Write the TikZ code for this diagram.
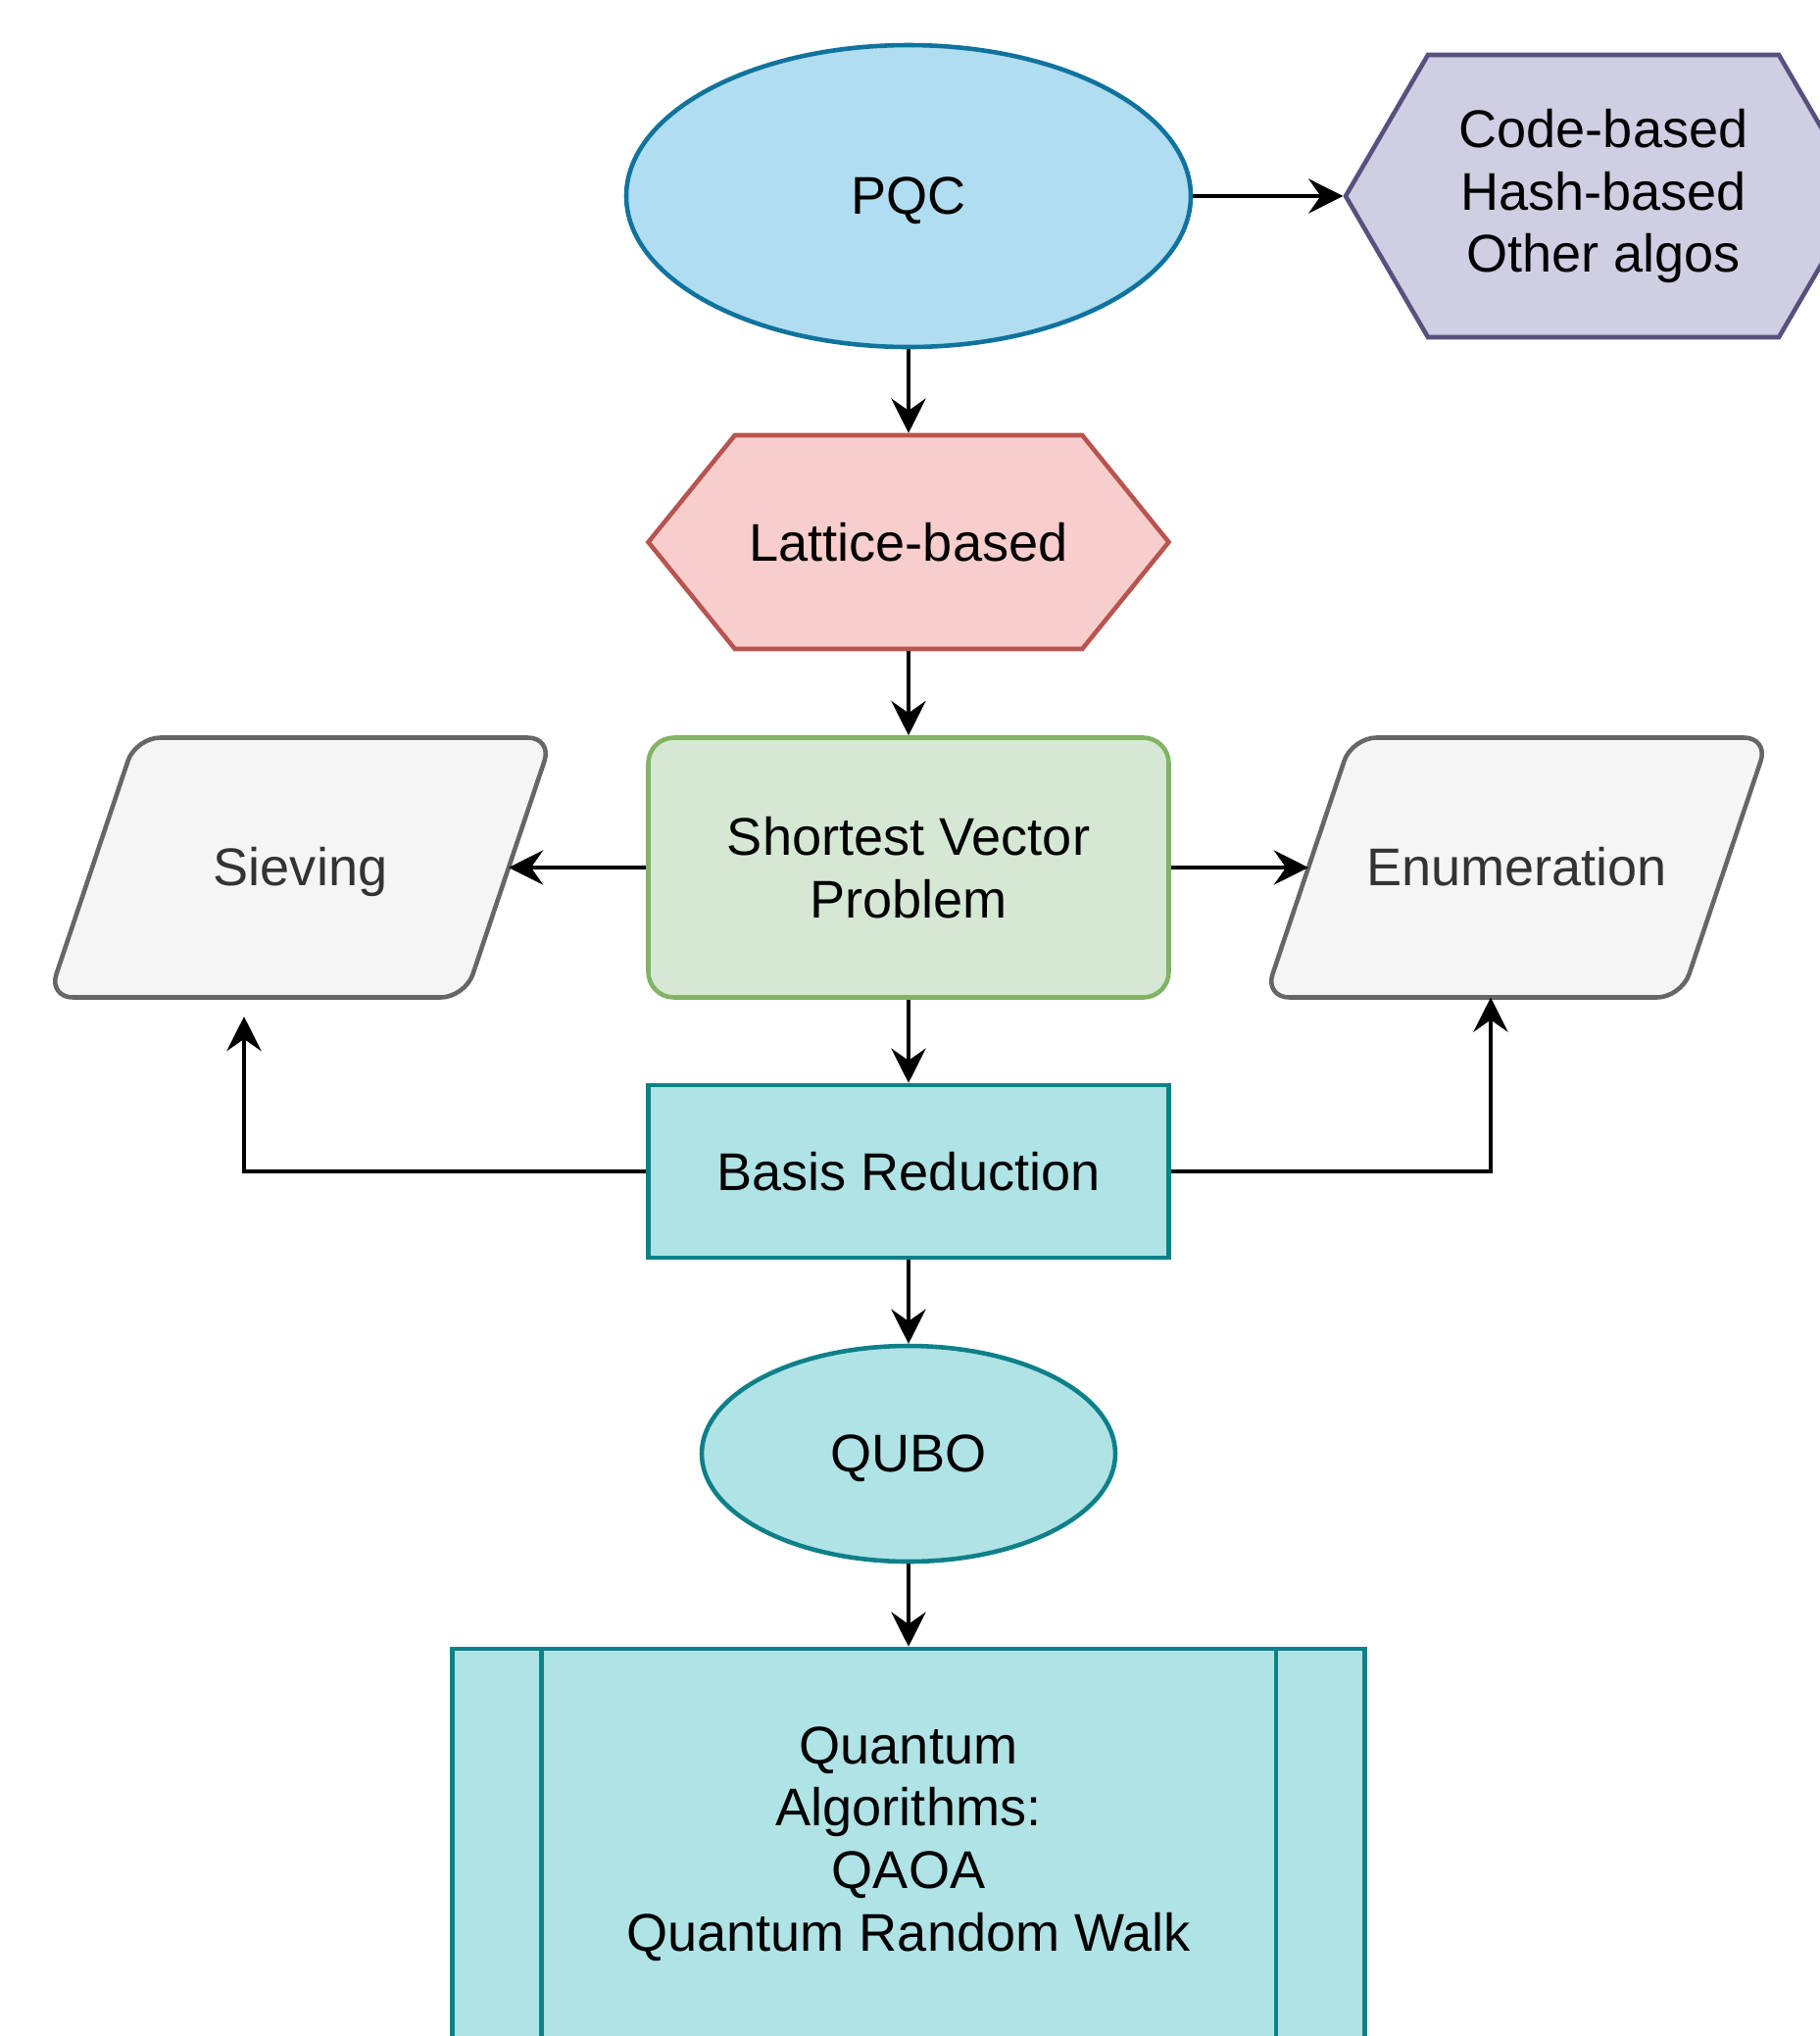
\documentclass[tikz,border=0pt]{standalone}
\usepackage{fontspec}
\setmainfont{Liberation Sans}
\usetikzlibrary{shapes,arrows.meta,calc,backgrounds}
\tikzset{>={Stealth[length=10pt,width=10pt,inset=3.5pt]}}
\definecolor{pqcfill}{HTML}{B1DDF0}
\definecolor{pqcline}{HTML}{10739E}
\definecolor{otherfill}{HTML}{D0CEE2}
\definecolor{otherline}{HTML}{56517E}
\definecolor{latfill}{HTML}{F8CECC}
\definecolor{latline}{HTML}{B85450}
\definecolor{svpfill}{HTML}{D5E8D4}
\definecolor{svpline}{HTML}{82B366}
\definecolor{grayfill}{HTML}{F5F5F5}
\definecolor{grayline}{HTML}{666666}
\definecolor{graytext}{HTML}{333333}
\definecolor{tealfill}{HTML}{B0E3E6}
\definecolor{tealline}{HTML}{0E8088}
\tikzstyle{base}=[draw,line width=1.3pt,align=center,inner sep=2pt,font=\fontsize{15.4}{18.1}\selectfont]
\tikzstyle{ellipsenode}=[base,ellipse,text height=1.1em,text depth=0.05em]
\tikzstyle{hexnode}=[base,signal,signal to=west and east]
\tikzstyle{svpnode}=[base,rectangle,rounded corners=0.26cm,fill=svpfill,draw=svpline,minimum width=5.31cm,minimum height=2.65cm]
\tikzstyle{paranode}=[base,draw=none,rectangle,outer sep=0pt,text=graytext,minimum width=4.25cm,minimum height=2.65cm,text height=1.1em,text depth=0.05em]
\tikzstyle{parashape}=[line width=1.3pt,rounded corners=0.25cm,fill=grayfill,draw=grayline]
\tikzstyle{tealbox}=[base,rectangle,fill=tealfill,draw=tealline]
\tikzstyle{link}=[->,line width=1.3pt]

\begin{document}
\begin{tikzpicture}
  \useasboundingbox (0,0) rectangle (18.57,-20.77);
  \def\slant{0.445cm}
  % shapes
  \node[ellipsenode,fill=pqcfill,draw=pqcline,minimum width=5.76cm,minimum height=3.08cm] (pqc) at (9.27,-2.00) {PQC};
  \node[hexnode,fill=otherfill,draw=otherline,minimum width=5.26cm,minimum height=2.88cm,signal pointer angle=119.5] (others) at (16.36,-2.00) {Code-based\\Hash-based\\Other algos};
  \node[hexnode,fill=latfill,draw=latline,minimum width=5.31cm,minimum height=2.18cm,signal pointer angle=102] (lattice) at (9.27,-5.53) {Lattice-based};
  \node[svpnode] (svp) at (9.27,-8.85) {Shortest Vector\\Problem};
  \node[paranode] (sieving) at (3.065,-8.85) {Sieving};
  \node[paranode] (enum) at (15.475,-8.85) {Enumeration};
  \begin{scope}[on background layer]
    \foreach \n in {sieving,enum}{
      \draw[parashape] ([xshift=\slant]\n.north west) -- ([xshift=\slant]\n.north east)
        -- ([xshift=-\slant]\n.south east) -- ([xshift=-\slant]\n.south west) -- cycle;
    }
  \end{scope}
  \node[tealbox,minimum width=5.31cm,minimum height=1.76cm] (basis) at (9.27,-11.95) {Basis Reduction};
  \node[ellipsenode,fill=tealfill,draw=tealline,minimum width=4.22cm,minimum height=2.20cm] (qubo) at (9.27,-14.83) {QUBO};
  \node[tealbox,minimum width=9.31cm,minimum height=3.98cm] (quantum) at (9.27,-18.81) {Quantum\\Algorithms:\\QAOA\\Quantum Random Walk};
  \draw[tealline,line width=1.3pt] ([xshift=0.93cm]quantum.north west) -- ([xshift=0.93cm]quantum.south west);
  \draw[tealline,line width=1.3pt] ([xshift=-0.93cm]quantum.north east) -- ([xshift=-0.93cm]quantum.south east);
  \coordinate (sievtip) at (2.49,-10.37);
  % arrows
  \draw[link] (pqc.east) -- (others.west);
  \draw[link] (pqc.south) -- (lattice.north);
  \draw[link] (lattice.south) -- (svp.north);
  \draw[link] (svp) -- (sieving);
  \draw[link] (svp) -- (enum);
  \draw[link] (svp.south) -- (basis.north);
  \draw[link] (basis.west) -| (sievtip);
  \draw[link] (basis.east) -| ([xshift=-0.265cm]enum.south);
  \draw[link] (basis.south) -- (qubo.north);
  \draw[link] (qubo.south) -- (quantum.north);
\end{tikzpicture}
\end{document}
